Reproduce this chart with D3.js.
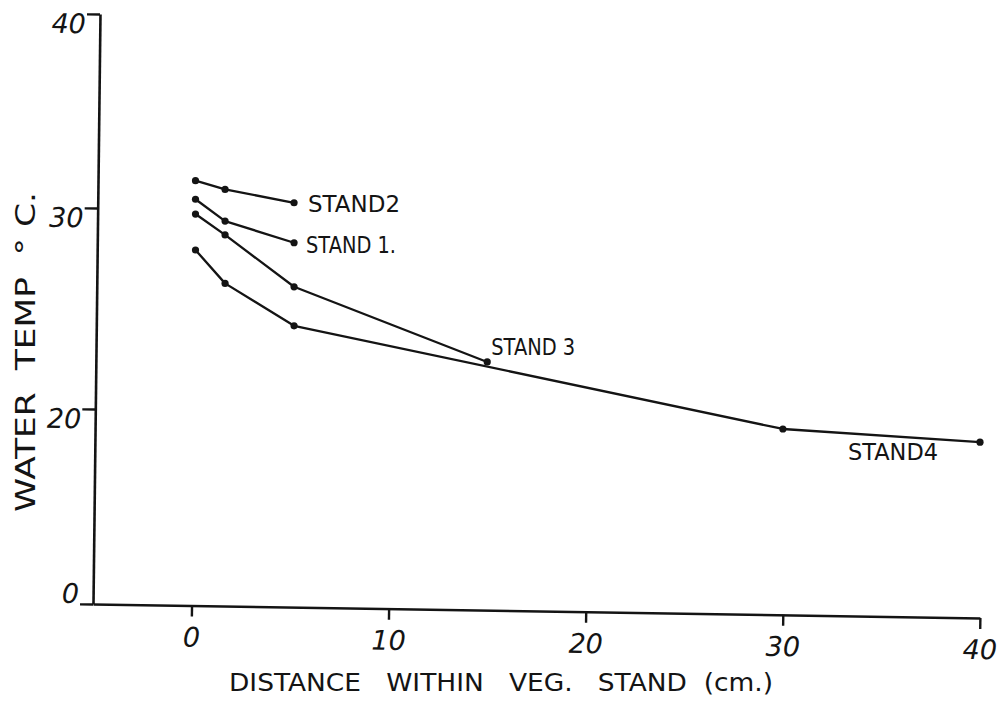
<!DOCTYPE html>
<html>
<head>
<meta charset="utf-8">
<script src="https://cdn.jsdelivr.net/npm/d3@7/dist/d3.min.js"></script>
<style>
  html, body { margin: 0; padding: 0; background: #fff; }
  svg { display: block; }
  text { fill: #141414; font-family: "DejaVu Sans", "Liberation Sans", sans-serif; white-space: pre; }
</style>
</head>
<body>
<svg id="chart" width="1001" height="705"></svg>
<script>
// Water temperature (°C) against distance inside each vegetation stand (cm)
const stand1Dist = [0.2, 1.7, 5.2];
const stand1Temp = [30.45, 29.35, 28.27];
const stand2Dist = [0.2, 1.7, 5.2];
const stand2Temp = [31.41, 30.96, 30.27];
const stand3Dist = [0.2, 1.7, 5.2, 15];
const stand3Temp = [29.7, 28.66, 26.08, 22.34];
const stand4Dist = [0.2, 1.7, 5.2, 30, 40];
const stand4Temp = [27.91, 26.25, 24.14, 17.95, 16.6];

const standNames = ["STAND 1.", "STAND2", "STAND 3", "STAND4"];
const xTicks = [0, 10, 20, 30, 40];
const yTicks = [0, 20, 30, 40];

const xTitle = "DISTANCE   WITHIN   VEG.   STAND  (cm.)";
const yTitle = "WATER  TEMP  ° C.";

const series = [
  { name: standNames[0], dist: stand1Dist, temp: stand1Temp },
  { name: standNames[1], dist: stand2Dist, temp: stand2Temp },
  { name: standNames[2], dist: stand3Dist, temp: stand3Temp },
  { name: standNames[3], dist: stand4Dist, temp: stand4Temp }
];

const svg = d3.select("#chart");
const ink = "#141414";

// Scales: the temperature axis is compressed below 20 (no 10 tick)
const x = d3.scaleLinear().domain([-5, 40]).range([93, 980]);
const y = d3.scaleLinear().domain([0, 20, 30, 40]).range([604, 409, 208, 14]);

// Y axis (slightly leaning, as drawn by hand)
const yAxis = svg.append("g")
  .attr("transform", "translate(93,0) rotate(0.68,0,604)")
  .call(d3.axisLeft(y).tickValues(yTicks).tickSize(13).tickSizeOuter(0).tickPadding(1)
    .tickFormat(d3.format("d")));
yAxis.select(".domain").attr("stroke", ink).attr("stroke-width", 2.6);
yAxis.selectAll(".tick line").attr("stroke", ink).attr("stroke-width", 2.4);
yAxis.selectAll(".tick text")
  .attr("font-size", 27).attr("font-style", "italic")
  .attr("fill", ink)
  .attr("dy", d => d === 0 ? "-0.05em" : "0.7em");

// X axis (slightly tilted)
const xAxis = svg.append("g")
  .attr("transform", "translate(0,604) rotate(0.9,93,0)")
  .call(d3.axisBottom(x).tickValues(xTicks).tickSize(11).tickSizeOuter(0).tickPadding(11)
    .tickFormat(d3.format("d")));
xAxis.select(".domain").attr("stroke", ink).attr("stroke-width", 2.6);
xAxis.selectAll(".tick line").attr("stroke", ink).attr("stroke-width", 2.4);
xAxis.selectAll(".tick text")
  .attr("font-size", 27).attr("font-style", "italic").attr("fill", ink);

// Series lines and points
const line = d3.line().x(d => x(d[0])).y(d => y(d[1]));
series.forEach(s => {
  const pts = s.dist.map((d, i) => [d, s.temp[i]]);
  svg.append("path")
    .attr("d", line(pts))
    .attr("fill", "none")
    .attr("stroke", ink)
    .attr("stroke-width", 2.3)
    .attr("stroke-linejoin", "round");
  svg.append("g").selectAll("circle").data(pts).join("circle")
    .attr("cx", d => x(d[0])).attr("cy", d => y(d[1]))
    .attr("r", 3.6).attr("fill", ink);
});

// Stand labels, placed beside the last point of each series
const labelPlacement = [
  { dx: 12, dy: 10, len: 90 },
  { dx: 14, dy: 9, len: 92 },
  { dx: 4, dy: -7, len: 84 },
  { dx: -132, dy: 18, len: 90 }
];
series.forEach((s, i) => {
  const n = s.dist.length - 1;
  const p = labelPlacement[i];
  svg.append("text")
    .attr("x", x(s.dist[n]) + p.dx)
    .attr("y", y(s.temp[n]) + p.dy)
    .attr("font-size", 23)
    .attr("textLength", p.len)
    .attr("lengthAdjust", "spacingAndGlyphs")
    .text(s.name);
});

// Axis titles
svg.append("text")
  .attr("x", 229).attr("y", 691)
  .attr("font-size", 25)
  .attr("textLength", 544)
  .attr("lengthAdjust", "spacingAndGlyphs")
  .text(xTitle);

svg.append("text")
  .attr("transform", "translate(35,512) rotate(-90)")
  .attr("font-size", 26)
  .attr("textLength", 320)
  .attr("lengthAdjust", "spacingAndGlyphs")
  .text(yTitle);
</script>
</body>
</html>
